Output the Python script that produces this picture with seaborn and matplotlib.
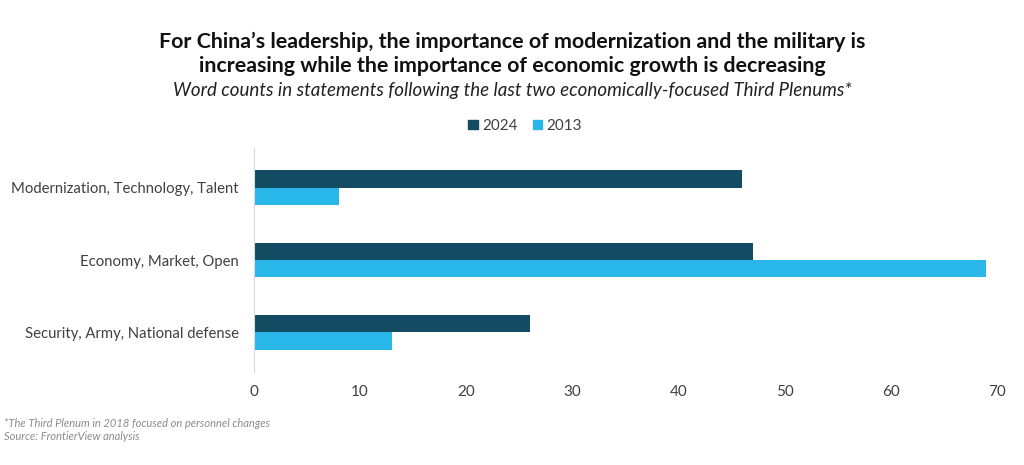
import pandas as pd
import matplotlib.pyplot as plt
import seaborn as sns

# ── Data ──────────────────────────────────────────────────────────────────────
categories = ['Modernization, Technology, Talent',
              'Economy, Market, Open',
              'Security, Army, National defense']
years      = ['2024', '2013']
counts_2024 = [46, 47, 26]
counts_2013 = [8, 69, 13]

df = pd.DataFrame({
    'category': categories * 2,
    'year':     [years[0]] * 3 + [years[1]] * 3,
    'count':    counts_2024 + counts_2013,
})

# ── Style ─────────────────────────────────────────────────────────────────────
sns.set_style('white')
plt.rcParams['font.family'] = ['Lato', 'DejaVu Sans']
C = {'2024': '#134B63', '2013': '#29B6E8'}
TXT = '#404040'

fig = plt.figure(figsize=(10.24, 4.65), dpi=100)
ax = fig.add_axes([254 / 1024, 1 - 372 / 465, (997 - 254) / 1024, 224 / 465])

sns.barplot(data=df, y='category', x='count', hue='year',
            hue_order=years, order=categories, palette=C,
            width=0.48, orient='h', ax=ax, saturation=1, legend=False,
            linewidth=0)

ax.set_xlim(0, 70)
ax.set_ylim(2.55, -0.55)
ax.set_xticks(range(0, 71, 10))
ax.set_xlabel('')
ax.set_ylabel('')
ax.tick_params(axis='x', length=0, labelsize=11, labelcolor=TXT, pad=9)
ax.tick_params(axis='y', length=0, labelsize=10.7, labelcolor=TXT, pad=11)
for s in ['top', 'right', 'bottom']:
    ax.spines[s].set_visible(False)
ax.spines['left'].set_color('#d9d9d9')
ax.spines['left'].set_linewidth(0.8)

# ── Titles ────────────────────────────────────────────────────────────────────
fig.text(0.5, 1 - 42 / 465,
         'For China\u2019s leadership, the importance of modernization and the military is',
         ha='center', va='center', fontsize=15.4, fontweight='bold', color='#111111')
fig.text(0.5, 1 - 66 / 465,
         'increasing while the importance of economic growth is decreasing',
         ha='center', va='center', fontsize=15.4, fontweight='bold', color='#111111')
fig.text(0.5, 1 - 90 / 465,
         'Word counts in statements following the last two economically-focused Third Plenums*',
         ha='center', va='center', fontsize=13.5, style='italic', color='#222222')

# Legend
handles = [plt.Rectangle((0, 0), 1, 1, color=C[y]) for y in years]
fig.legend(handles, years, loc='center', bbox_to_anchor=(0.513, 1 - 126 / 465),
           ncol=2, frameon=False, fontsize=11, handlelength=0.6, handleheight=0.6,
           handletextpad=0.3, columnspacing=1.0, labelcolor=TXT)

# Footnotes
fig.text(4 / 1024, 1 - 423 / 465, '*The Third Plenum in 2018 focused on personnel changes',
         ha='left', va='center', fontsize=8, style='italic', color='#8c8c8c')
fig.text(4 / 1024, 1 - 436 / 465, 'Source: FrontierView analysis',
         ha='left', va='center', fontsize=8, style='italic', color='#8c8c8c')

plt.savefig('out.png', dpi=100, facecolor='white')
plt.close()
